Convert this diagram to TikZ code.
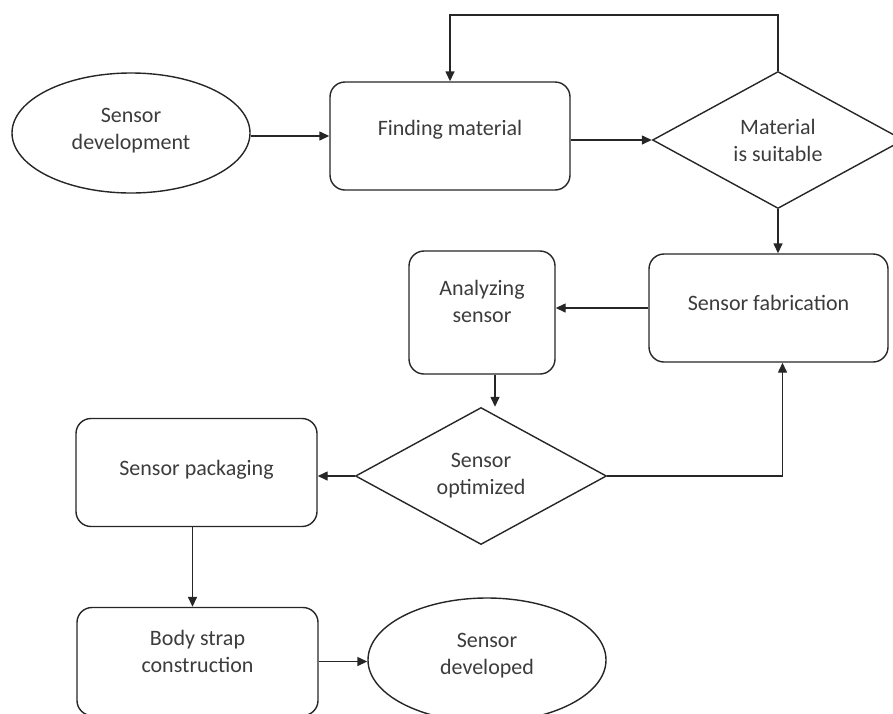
\documentclass[tikz,border=0pt]{standalone}
\usepackage{fontspec}
\setmainfont{Carlito}
\usepackage{xcolor}
\usepackage{tikz}
\usetikzlibrary{shapes.geometric,arrows.meta}
\definecolor{linegray}{HTML}{262626}
\definecolor{textgray}{HTML}{3C3C3C}
\tikzset{
  base shape/.style={
    draw=linegray,
    line width=0.7pt,
    text=textgray,
    align=center,
    inner sep=0pt,
    font=\fontsize{11pt}{13.5pt}\selectfont,
  },
  step box/.style={
    base shape,
    rectangle,
    rounded corners=7.5pt,
    minimum width={#1},
    minimum height=54pt,
  },
  terminal/.style={
    base shape,
    ellipse,
    minimum width=119pt,
    minimum height={#1},
  },
  decision/.style={
    base shape,
    diamond,
    minimum width=125.5pt,
    minimum height=68.5pt,
  },
  flow/.style={
    draw=linegray,
    line width=0.7pt,
    -{Triangle[length=5pt,width=4.5pt]},
  }
}
\begin{document}
\begin{tikzpicture}[x=0.5pt,y=-0.5pt]
    \useasboundingbox (0,0) rectangle (893,713);

    \node [terminal=60pt] (dev) at (131,133) {Sensor\\development\\[-9pt]};
    \node [step box=120pt] (find) at (450,136) {Finding material\\[-5pt]};
    \node [decision] (suit) at (778,140) {Material\\is suitable};
    \node [step box=119.5pt] (fab) at (768.5,308) {Sensor fabrication\\[-8pt]};
    \node [step box=73pt, minimum height=61.5pt] (ana) at (482,312.5) {Analyzing\\sensor\\[-2pt]};
    \node [decision] (opt) at (481,476) {Sensor\\optimized};
    \node [step box=120.5pt] (pack) at (196.5,472.5) {Sensor packaging\\[-9pt]};
    \node [step box=120.5pt] (strap) at (197.5,661.5) {Body strap\\construction\\[-3pt]};
    \node [terminal=62pt] (done) at (487,660) {Sensor\\developed\\[-7pt]};

    \draw [flow] (dev.east |- find.west) -- (find.west);
    \draw [flow] (find.east |- suit.west) -- (suit.west);
    \draw [flow] (suit.north) -- ++(0,-56) -| (find.north);
    \draw [flow] (suit.south) -- (suit.south |- fab.north);
    \draw [flow] (fab.west) -- (fab.west -| ana.east);
    \draw [flow] ([xshift=6.5pt]ana.south) -- ([xshift=6.5pt]ana.south |- opt.north);
    \draw [flow] (opt.east) -| ([xshift=7pt]fab.south);
    \draw [flow] (opt.west) -- (opt.west -| pack.east);
    \draw [flow] ([xshift=-2pt]pack.south) -- ([xshift=-2pt]pack.south |- strap.north);
    \draw [flow] (strap.east) -- (strap.east -| done.west);
\end{tikzpicture}
\end{document}
